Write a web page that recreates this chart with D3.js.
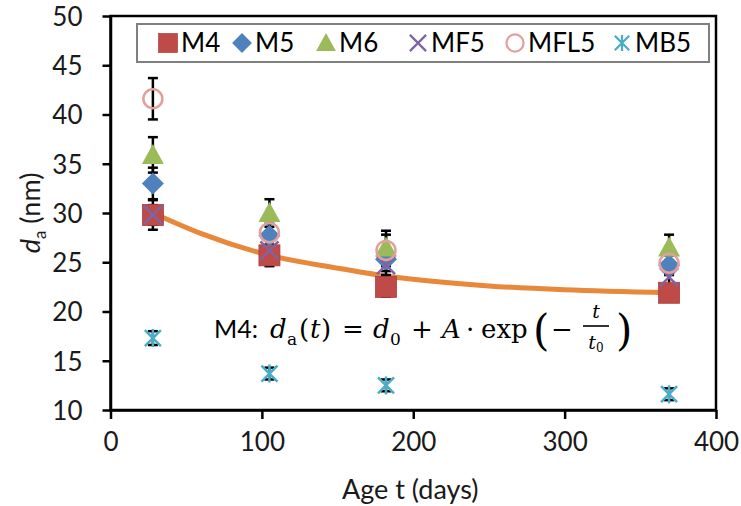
<!DOCTYPE html>
<html>
<head>
<meta charset="utf-8">
<script src="https://cdn.jsdelivr.net/npm/d3@7"></script>
<style>
  body { margin: 0; background: #fff; }
  text { font-family: Lato, "Open Sans", sans-serif; }
</style>
</head>
<body>
<div id="chart"></div>
<script>
// Sample ages (days)
const ages = [28, 105, 182, 369];

// Mean diameters d_a (nm) per sample
const seriesNames = ['M4', 'M5', 'M6', 'MF5', 'MFL5', 'MB5'];
const m4 = [29.8, 25.7, 22.5, 21.9];
const m5 = [33.0, 27.7, 25.3, 24.7];
const m6 = [35.9, 30.0, 26.5, 26.5];
const mf5 = [29.8, 26.2, 24.7, 23.5];
const mfl5 = [41.6, 28.0, 26.2, 24.9];
const mb5 = [17.3, 13.7, 12.5, 11.6];

// Error bar half-widths (nm)
const m4Err = [1.5, 1.1, 1.0, 0.8];
const m5Err = [1.6, 1.2, 1.2, 1.0];
const m6Err = [1.8, 1.4, 1.7, 1.3];
const mf5Err = [1.0, 1.0, 1.0, 1.0];
const mfl5Err = [2.1, 1.3, 1.6, 1.0];
const mb5Err = [0.7, 0.6, 0.6, 0.6];

// Fitted M4 trend
const fitT = [28, 60, 105, 150, 182, 250, 300, 369];
const fitD = [30.0, 27.9, 25.7, 24.4, 23.6, 22.6, 22.2, 21.9];

const xTicks = [0, 100, 200, 300, 400];
const yTicks = [10, 15, 20, 25, 30, 35, 40, 45, 50];

const width = 741, height = 506;
const margin = { left: 110.5, right: 25, top: 16, bottom: 96 };
const serif = '"DejaVu Serif", "Liberation Serif", serif';

const svg = d3.select('#chart')
    .append('svg')
    .attr('width', width)
    .attr('height', height);

svg.append('rect').attr('width', width).attr('height', height).attr('fill', '#fff');

const x = d3.scaleLinear().domain([0, 400]).range([margin.left, width - margin.right]);
const y = d3.scaleLinear().domain([10, 50]).range([height - margin.bottom, margin.top]);

// Plot frame
svg.append('rect')
    .attr('x', x(0)).attr('y', y(50))
    .attr('width', x(400) - x(0)).attr('height', y(10) - y(50))
    .attr('fill', 'none').attr('stroke', '#000').attr('stroke-width', 2.5);

// Axes
const xAxis = svg.append('g')
    .attr('transform', `translate(0,${y(10)})`)
    .call(d3.axisBottom(x).tickValues(xTicks).tickSize(9).tickSizeOuter(0).tickPadding(14));
const yAxis = svg.append('g')
    .attr('transform', `translate(${x(0)},0)`)
    .call(d3.axisLeft(y).tickValues(yTicks).tickSize(8).tickSizeOuter(0).tickPadding(20));

[xAxis, yAxis].forEach(a => {
    a.select('.domain').attr('stroke', '#000').attr('stroke-width', 2.5);
    a.selectAll('.tick line').attr('stroke', '#000').attr('stroke-width', 2.5);
    a.selectAll('.tick text')
        .attr('fill', '#1a1a1a')
        .style('font-size', '26px')
        .style('font-family', 'Lato, sans-serif');
});
yAxis.selectAll('.tick text').attr('dy', '0.36em');

// Axis titles
svg.append('text')
    .attr('x', (x(0) + x(400)) / 2 - 3)
    .attr('y', 499)
    .attr('text-anchor', 'middle')
    .attr('font-size', '27px')
    .attr('fill', '#1a1a1a')
    .text('Age t (days)');

const yTitle = svg.append('text')
    .attr('transform', `translate(40,${y(30)}) rotate(-90)`)
    .attr('text-anchor', 'middle')
    .attr('font-size', '27px')
    .attr('fill', '#1a1a1a');
yTitle.append('tspan').attr('font-style', 'italic').text('d');
yTitle.append('tspan').attr('font-size', '17px').attr('dy', 6).text('a');
yTitle.append('tspan').attr('dy', -6).text(' (nm)');

// Fit curve
svg.append('path')
    .datum(fitT.map((t, i) => [t, fitD[i]]))
    .attr('fill', 'none')
    .attr('stroke', '#e8883a')
    .attr('stroke-width', 5)
    .attr('d', d3.line().x(d => x(d[0])).y(d => y(d[1])).curve(d3.curveMonotoneX));

const series = [
    { name: 'M4', vals: m4, err: m4Err, type: 'square', color: '#be4b48' },
    { name: 'M5', vals: m5, err: m5Err, type: 'diamond', color: '#4f81bd' },
    { name: 'M6', vals: m6, err: m6Err, type: 'triangle', color: '#9bbb59' },
    { name: 'MF5', vals: mf5, err: mf5Err, type: 'cross', color: '#8064a2' },
    { name: 'MFL5', vals: mfl5, err: mfl5Err, type: 'circle', color: '#e0a09e' },
    { name: 'MB5', vals: mb5, err: mb5Err, type: 'star', color: '#4bacc6' }
];

// Error bars
const errG = svg.append('g');
series.forEach(s => {
    s.vals.forEach((v, i) => {
        const cx = x(ages[i]);
        const lo = y(v - s.err[i]), hi = y(v + s.err[i]);
        errG.append('line').attr('x1', cx).attr('x2', cx).attr('y1', lo).attr('y2', hi)
            .attr('stroke', '#000').attr('stroke-width', 2.5);
        [lo, hi].forEach(yy => errG.append('line')
            .attr('x1', cx - 5).attr('x2', cx + 5).attr('y1', yy).attr('y2', yy)
            .attr('stroke', '#000').attr('stroke-width', 2.5));
    });
});

function drawMarker(g, type, color, cx, cy, k) {
    const m = g.append('g').attr('transform', `translate(${cx},${cy}) scale(${k})`);
    if (type === 'square') {
        m.append('rect').attr('x', -10.5).attr('y', -10.5).attr('width', 21).attr('height', 21)
            .attr('fill', color).attr('stroke', '#a8403d').attr('stroke-width', 0.8);
    } else if (type === 'diamond') {
        m.append('path').attr('d', 'M0,-11L11,0L0,11L-11,0Z').attr('fill', color);
    } else if (type === 'triangle') {
        m.append('path').attr('d', 'M0,-11L11,9L-11,9Z').attr('fill', color);
    } else if (type === 'cross') {
        m.append('path').attr('d', 'M-9,-9L9,9M-9,9L9,-9')
            .attr('stroke', color).attr('stroke-width', 2.5).attr('fill', 'none');
    } else if (type === 'circle') {
        m.append('circle').attr('r', 9.5).attr('fill', 'none')
            .attr('stroke', color).attr('stroke-width', 2.5);
    } else if (type === 'star') {
        m.append('path').attr('d', 'M-8,-8L8,8M-8,8L8,-8M0,-9L0,9')
            .attr('stroke', color).attr('stroke-width', 2.5).attr('fill', 'none');
    }
}

// Markers
const markG = svg.append('g');
series.forEach(s => {
    s.vals.forEach((v, i) => drawMarker(markG, s.type, s.color, x(ages[i]), y(v), 1));
});

// Legend
const legend = svg.append('g');
legend.append('rect')
    .attr('x', 137).attr('y', 24).attr('width', 572).attr('height', 38)
    .attr('fill', '#fff').attr('stroke', '#808080').attr('stroke-width', 2);
const legendX = [168, 242, 326, 418, 515, 622];
series.forEach((s, i) => {
    drawMarker(legend, s.type, s.color, legendX[i], 43, 0.9);
    legend.append('text')
        .attr('x', legendX[i] + 13)
        .attr('y', 52)
        .attr('font-size', '26px')
        .attr('fill', '#000')
        .text(s.name);
});

// Fit equation, pieces laid out like the Cambria Math original
const eqG = svg.append('g').attr('fill', '#000');
eqG.append('text').attr('x', 214).attr('y', 338).attr('font-size', '25px').text('M4:');
const eqParts = [
    // [text, x, y, size, italic, anchor]
    ['d', 270, 338, 26, true, 'start'],
    ['a', 287, 345, 17, false, 'start'],
    ['(', 299, 338, 26, false, 'start'],
    ['t', 310, 338, 26, true, 'start'],
    [')', 321, 338, 26, false, 'start'],
    ['=', 342, 338, 26, false, 'start'],
    ['d', 373, 338, 26, true, 'start'],
    ['0', 390, 345, 17, false, 'start'],
    ['+', 411, 338, 26, false, 'start'],
    ['A', 442, 338, 26, true, 'start'],
    ['·', 466, 338, 26, false, 'start'],
    ['exp', 481, 338, 26, false, 'start'],
    ['(', 533, 345, 42, false, 'start'],
    ['−', 551, 338, 26, false, 'start'],
    ['t', 596, 318, 19, true, 'middle'],
    [')', 616, 345, 42, false, 'start']
];
eqParts.forEach(p => {
    eqG.append('text')
        .attr('x', p[1]).attr('y', p[2])
        .attr('font-size', p[3] + 'px')
        .attr('font-style', p[4] ? 'italic' : 'normal')
        .attr('text-anchor', p[5])
        .style('font-family', serif)
        .text(p[0]);
});
const den = eqG.append('text').attr('x', 596).attr('y', 349).attr('font-size', '19px')
    .attr('text-anchor', 'middle').style('font-family', serif);
den.append('tspan').attr('font-style', 'italic').text('t');
den.append('tspan').attr('font-size', '12px').attr('dy', 3).text('0');
eqG.append('line').attr('x1', 583).attr('x2', 609).attr('y1', 326).attr('y2', 326)
    .attr('stroke', '#000').attr('stroke-width', 1.6);
</script>
</body>
</html>
